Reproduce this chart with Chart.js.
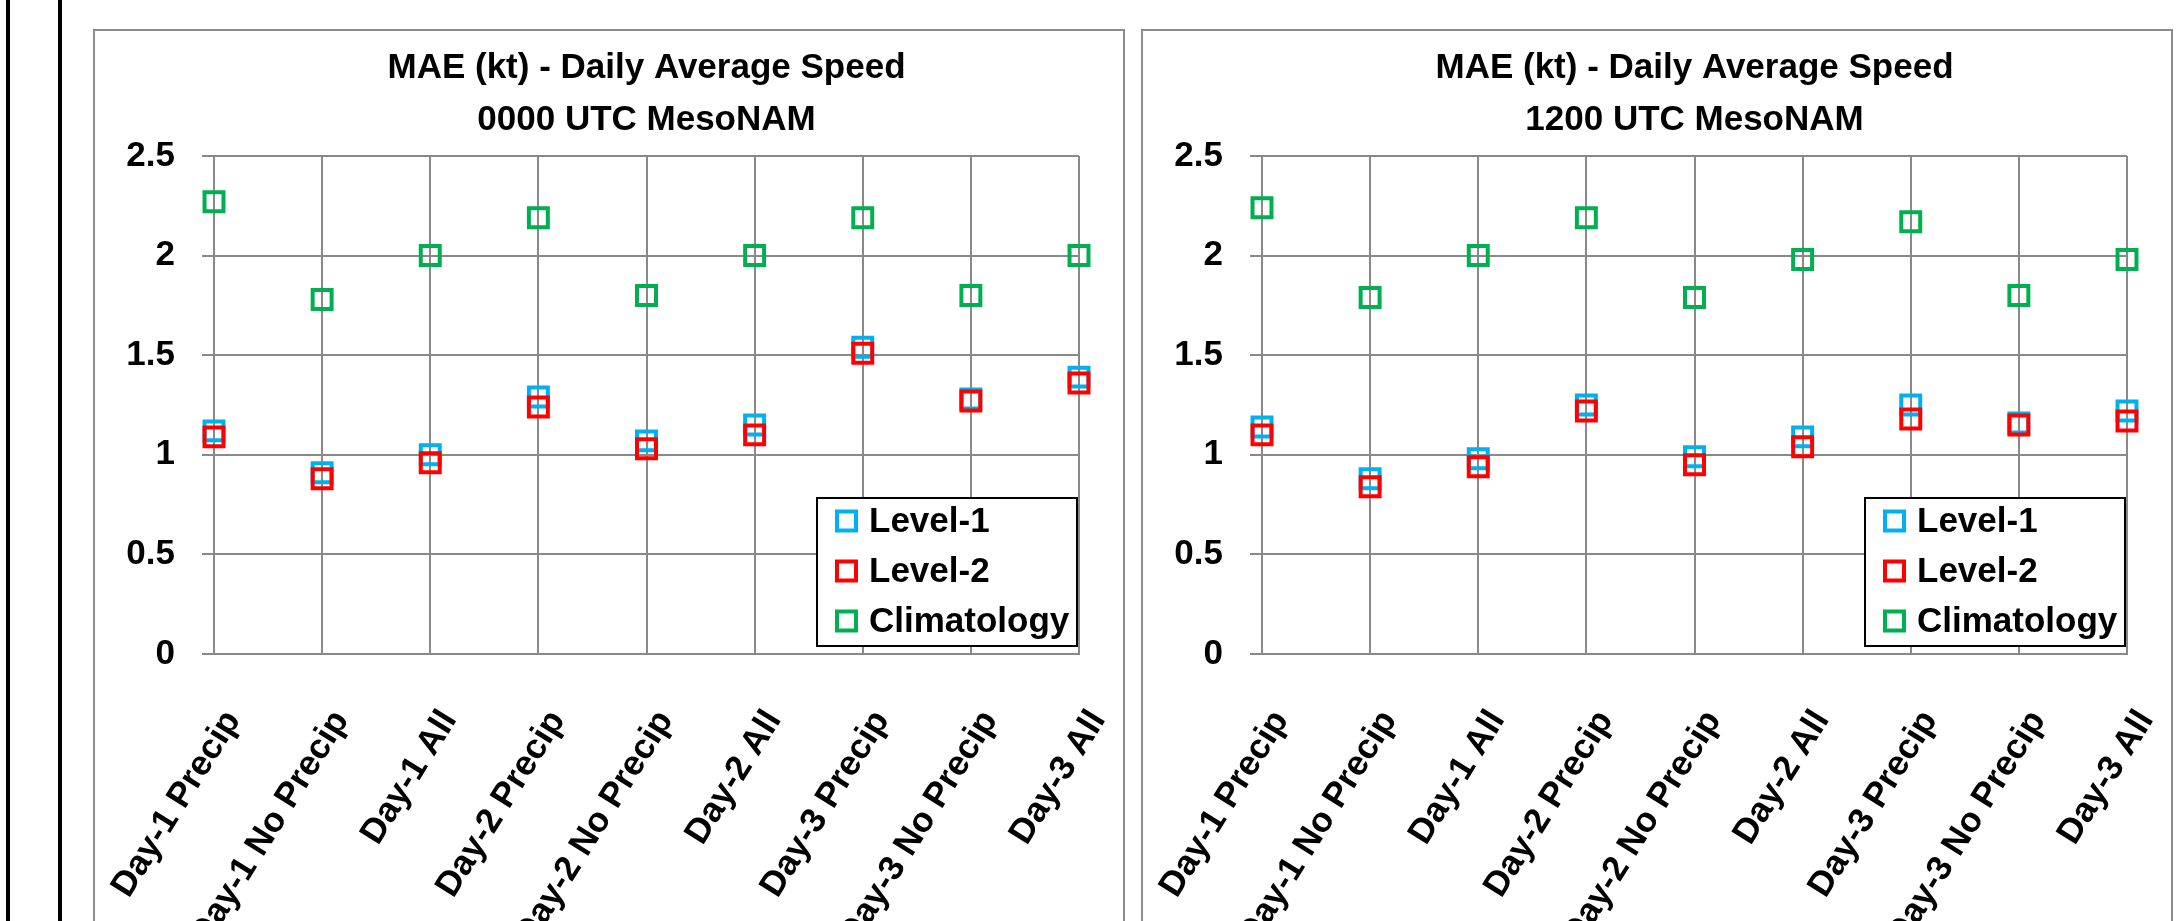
<!DOCTYPE html>
<html>
<head>
<meta charset="utf-8">
<script src="https://cdn.jsdelivr.net/npm/chart.js@4.4.1/dist/chart.umd.min.js"></script>
<style>
  html, body { margin: 0; padding: 0; background: #fff; width: 2182px; height: 921px; overflow: hidden; }
  .vline { position: absolute; top: 0; width: 4px; height: 921px; background: #000; }
  .box { position: absolute; top: 29px; width: 1032px; height: 960px; border: 2px solid #8c8c8c; box-sizing: border-box; }
  canvas { position: absolute; top: 29px; }
</style>
</head>
<body>
<div class="vline" style="left:6px"></div>
<div class="vline" style="left:58px"></div>
<div class="box" style="left:93px"></div>
<div class="box" style="left:1141px"></div>
<canvas id="Chart00" width="1070" height="892" style="left:64px"></canvas>
<canvas id="Chart12" width="1070" height="892" style="left:1112px"></canvas>
<script>
var categories = ["Day-1 Precip", "Day-1 No Precip", "Day-1 All", "Day-2 Precip", "Day-2 No Precip",
                  "Day-2 All", "Day-3 Precip", "Day-3 No Precip", "Day-3 All"];
var seriesNames = ["Level-1", "Level-2", "Climatology"];
var seriesColors = ["#00B0F0", "#FF0000", "#00B050"];
var yTicks = [0, 0.5, 1, 1.5, 2, 2.5];

// 0000 UTC MesoNAM
var level1_00 = [1.12, 0.91, 1.00, 1.29, 1.07, 1.15, 1.54, 1.28, 1.39];
var level2_00 = [1.09, 0.88, 0.96, 1.24, 1.03, 1.10, 1.51, 1.27, 1.36];
var clim_00   = [2.27, 1.78, 2.00, 2.19, 1.80, 2.00, 2.19, 1.80, 2.00];

// 1200 UTC MesoNAM
var level1_12 = [1.14, 0.88, 0.98, 1.25, 0.99, 1.09, 1.25, 1.16, 1.22];
var level2_12 = [1.10, 0.84, 0.94, 1.22, 0.95, 1.04, 1.18, 1.15, 1.17];
var clim_12   = [2.24, 1.79, 2.00, 2.19, 1.79, 1.98, 2.17, 1.80, 1.98];

var FONT = "'Liberation Sans', Arial, sans-serif";
var GRID = "#898989";

// legend box sitting in the lower right corner of the plot
var boxLegend = {
    id: 'boxLegend',
    afterDraw: function(chart) {
        var a = chart.chartArea, ctx = chart.ctx;
        var L = a.right - 262, T = a.bottom - 156;
        ctx.save();
        ctx.fillStyle = "#fff";
        ctx.fillRect(L, T, 260, 148);
        ctx.strokeStyle = "#000";
        ctx.lineWidth = 2;
        ctx.strokeRect(L, T, 260, 148);
        ctx.font = "bold 35px " + FONT;
        ctx.textBaseline = "middle";
        chart.data.datasets.forEach(function(ds, i) {
            var cy = T + 23 + i * 50;
            ctx.strokeStyle = ds.borderColor;
            ctx.lineWidth = 4;
            ctx.strokeRect(L + 20, cy - 9.5, 19, 19);
            ctx.fillStyle = "#000";
            ctx.fillText(ds.label, L + 52, cy + 1);
        });
        ctx.restore();
    }
};

function makeChart(id, subtitle, series) {
    var ctx = document.getElementById(id).getContext('2d');
    return new Chart(ctx, {
        type: 'line',
        data: {
            labels: categories,
            datasets: series.map(function(vals, i) {
                return {
                    label: seriesNames[i],
                    data: vals,
                    showLine: false,
                    pointStyle: 'rect',
                    pointRadius: 13.4,
                    pointHoverRadius: 13.4,
                    borderWidth: 4,
                    pointBorderWidth: 4,
                    borderColor: seriesColors[i],
                    backgroundColor: 'rgba(0,0,0,0)',
                    order: i === 1 ? 1 : (i === 0 ? 2 : 0)
                };
            })
        },
        options: {
            responsive: false,
            animation: false,
            devicePixelRatio: 1,
            layout: { autoPadding: false, padding: { left: 0, right: 55, top: 0, bottom: 0 } },
            scales: {
                x: {
                    type: 'category',
                    offset: false,
                    grid: { color: GRID, lineWidth: 2, drawTicks: false, tickLength: 0 },
                    border: { color: GRID, width: 2 },
                    ticks: {
                        autoSkip: false, minRotation: 58, maxRotation: 58,
                        padding: 49, labelOffset: 19, color: "#000",
                        font: { family: FONT, size: 35, weight: 'bold' }
                    },
                    afterFit: function(s) { s.height = 267; s.paddingLeft = 0; s.paddingRight = 0; }
                },
                y: {
                    min: 0, max: 2.5,
                    afterBuildTicks: function(s) { s.ticks = yTicks.map(function(v) { return { value: v }; }); },
                    grid: { color: GRID, lineWidth: 2, drawTicks: true, tickLength: 12 },
                    border: { color: GRID, width: 2 },
                    ticks: {
                        padding: 27, color: "#000",
                        font: { family: FONT, size: 35, weight: 'bold' },
                        callback: function(v) { return String(v); }
                    },
                    afterFit: function(s) { s.width = 150; }
                }
            },
            plugins: {
                title: {
                    display: true,
                    fullSize: false,
                    text: ['MAE (kt) - Daily Average Speed', subtitle],
                    color: "#000",
                    font: { family: FONT, size: 35, weight: 'bold', lineHeight: 52 / 35 },
                    padding: { top: 13, bottom: 10 }
                },
                legend: { display: false },
                tooltip: { enabled: false }
            }
        },
        plugins: [boxLegend]
    });
}

makeChart("Chart00", "0000 UTC MesoNAM", [level1_00, level2_00, clim_00]);
makeChart("Chart12", "1200 UTC MesoNAM", [level1_12, level2_12, clim_12]);
</script>
</body>
</html>
